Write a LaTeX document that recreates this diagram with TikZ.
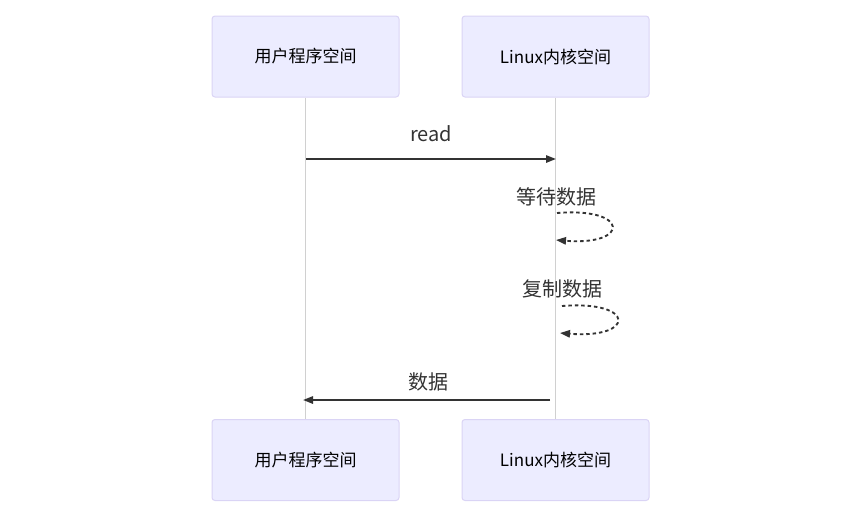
\documentclass[tikz,border=0pt]{standalone}
\usepackage{fontspec}
\setmainfont{Noto Sans CJK SC}
\usepackage{xcolor}
\definecolor{actorbg}{RGB}{236,236,255}
\definecolor{actorframe}{RGB}{218,212,245}
\definecolor{lifegray}{RGB}{208,208,208}
\definecolor{msgdark}{RGB}{51,51,51}
\usepackage{tikz}
\usetikzlibrary{arrows.meta, positioning}

\begin{document}
\begin{tikzpicture}[
  x=0.75pt, y=-0.75pt,
  actor/.style={
    draw=actorframe, fill=actorbg, rounded corners=2.25pt,
    minimum width=140.25pt, minimum height=60.75pt,
    line width=0.75pt, text=black,
    font=\fontsize{12.75}{15}\selectfont,
  },
  life/.style={draw=lifegray, line width=0.9pt},
  msg/.style={draw=msgdark, line width=1.4pt,
    -{Triangle[length=7.5pt, width=5.5pt]}},
  selfmsg/.style={msg, dash pattern=on 2.6pt off 2.2pt},
  lbl/.style={text=msgdark, inner sep=0pt,
    font=\fontsize{15}{18}\selectfont},
]
\useasboundingbox (0,0) rectangle (845,519);

% actors, top and bottom
\node[actor] (usertop) at (305.5,56.5) {用户程序空间};
\node[actor] (kerntop) at (555.5,56.5) {Linux内核空间};
\node[actor] (userbot) at (305.5,460)  {用户程序空间};
\node[actor] (kernbot) at (555.5,460)  {Linux内核空间};

% lifelines
\draw[life] (usertop.south) -- (userbot.north);
\draw[life] (kerntop.south) -- (kernbot.north);

% message end points
\coordinate (readfrom) at (306,159);
\coordinate (readto)   at (556,159);
\coordinate (waitfrom) at (557,213);
\coordinate (waitto)   at (556,240);
\coordinate (copyfrom) at (562,306);
\coordinate (copyto)   at (560,333);
\coordinate (datafrom) at (550,400);
\coordinate (datato)   at (303,400);

% read
\draw[msg] (readfrom) -- (readto);
\node[lbl] (readlbl) at (431,134) {read};

% self calls
\draw[selfmsg] (waitfrom) .. controls (630,207) and (630,246) .. (waitto);
\node[lbl] (waitlbl) at (556,197) {等待数据};
\draw[selfmsg] (copyfrom) .. controls (636,300) and (636,339) .. (copyto);
\node[lbl] (copylbl) at (562,289) {复制数据};

% reply
\draw[msg] (datafrom) -- (datato);
\node[lbl] (datalbl) at (428,382) {数据};
\end{tikzpicture}
\end{document}
